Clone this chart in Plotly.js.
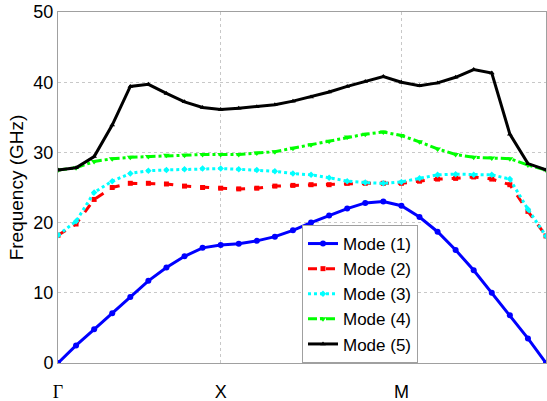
<!DOCTYPE html>
<html>
<head>
<meta charset="utf-8">
<script src="https://cdn.plot.ly/plotly-3.0.1.min.js"></script>
<style>html,body{margin:0;padding:0;background:#fff;}#chart{width:547px;height:401px;}</style>
</head>
<body>
<div id="chart"></div>
<script>
const kIndex = Array.from({length: 28}, (_, i) => i);
const tickPositions = [0, 9, 19, 27];
const tickLabels = ["Γ", "X", "M", "Γ"];
const seriesNames = ["Mode (1)", "Mode (2)", "Mode (3)", "Mode (4)", "Mode (5)"];
const mode1 = [0, 2.5, 4.8, 7.1, 9.4, 11.7, 13.6, 15.2, 16.4, 16.8, 17.0, 17.4, 18.0, 18.9, 20.0, 21.0, 22.0, 22.8, 23.0, 22.4, 20.8, 18.7, 16.1, 13.2, 10.0, 6.8, 3.5, 0];
const mode2 = [18.2, 19.8, 23.3, 25.0, 25.6, 25.6, 25.5, 25.2, 25.0, 24.9, 24.8, 24.9, 25.2, 25.3, 25.4, 25.4, 25.6, 25.6, 25.6, 25.6, 25.9, 26.2, 26.3, 26.5, 26.2, 25.4, 21.6, 18.1];
const mode3 = [18.2, 20.2, 24.3, 25.9, 27.0, 27.4, 27.5, 27.6, 27.7, 27.7, 27.6, 27.5, 27.3, 27.0, 26.8, 26.4, 25.9, 25.7, 25.6, 25.8, 26.3, 26.8, 26.9, 26.8, 26.8, 26.2, 21.9, 18.1];
const mode4 = [27.5, 27.8, 28.7, 29.1, 29.3, 29.4, 29.6, 29.6, 29.7, 29.7, 29.7, 29.9, 30.1, 30.6, 31.1, 31.6, 32.2, 32.6, 32.9, 32.4, 31.5, 30.5, 29.7, 29.3, 29.2, 29.1, 28.2, 27.5];
const mode5 = [27.5, 27.8, 29.4, 33.9, 39.4, 39.7, 38.4, 37.2, 36.4, 36.1, 36.3, 36.5, 36.8, 37.3, 37.9, 38.6, 39.4, 40.1, 40.8, 40.0, 39.5, 39.9, 40.7, 41.8, 41.3, 32.6, 28.4, 27.5];

const allModes = [mode1, mode2, mode3, mode4, mode5];
const styles = [
  {color: "#0000ff", dash: "solid", symbol: "circle", size: 6},
  {color: "#ff0000", dash: "dash", symbol: "square", size: 5},
  {color: "#00ffff", dash: "dot", symbol: "diamond", size: 5},
  {color: "#00ff00", dash: "dashdot", symbol: "triangle-down", size: 6},
  {color: "#000000", dash: "solid", symbol: "triangle-up", size: 5}
];
const traces = allModes.map((ys, k) => ({
  x: kIndex, y: ys, name: seriesNames[k], type: "scatter", mode: "lines+markers",
  line: {color: styles[k].color, width: 3, dash: styles[k].dash},
  marker: {color: styles[k].color, symbol: styles[k].symbol, size: styles[k].size}
}));

const font = "Liberation Sans, Arial, sans-serif";
const layout = {
  width: 547, height: 401,
  margin: {l: 58, r: 1, t: 12, b: 38},
  paper_bgcolor: "#fff", plot_bgcolor: "#fff",
  font: {family: font, size: 18, color: "#000"},
  showlegend: true,
  legend: {x: 0.5, y: 0, xanchor: "left", yanchor: "bottom", bgcolor: "#fff",
           bordercolor: "#a0a0a0", borderwidth: 1, font: {family: font, size: 17, color: "#000"},
           tracegroupgap: 0},
  xaxis: {range: [0, 27], tickvals: tickPositions,
          ticktext: tickLabels.map(t => t === "Γ" ? "<span style='font-family:Liberation Serif'>Γ</span>" : t),
          showgrid: true, gridcolor: "#c8c8c8", griddash: "dot", gridwidth: 1,
          showline: true, mirror: true, linecolor: "#a0a0a0", linewidth: 1,
          zeroline: false, ticks: "", ticklabelstandoff: 12, tickfont: {size: 18}},
  yaxis: {range: [0, 50], tickvals: [0, 10, 20, 30, 40, 50],
          showgrid: true, gridcolor: "#c8c8c8", griddash: "dot", gridwidth: 1,
          showline: true, mirror: true, linecolor: "#a0a0a0", linewidth: 1,
          zeroline: false, ticks: "", tickfont: {size: 18},
          title: {text: "Frequency (GHz)", font: {size: 19}, standoff: 4}}
};
Plotly.newPlot("chart", traces, layout, {displayModeBar: false, staticPlot: true});
</script>
</body>
</html>
